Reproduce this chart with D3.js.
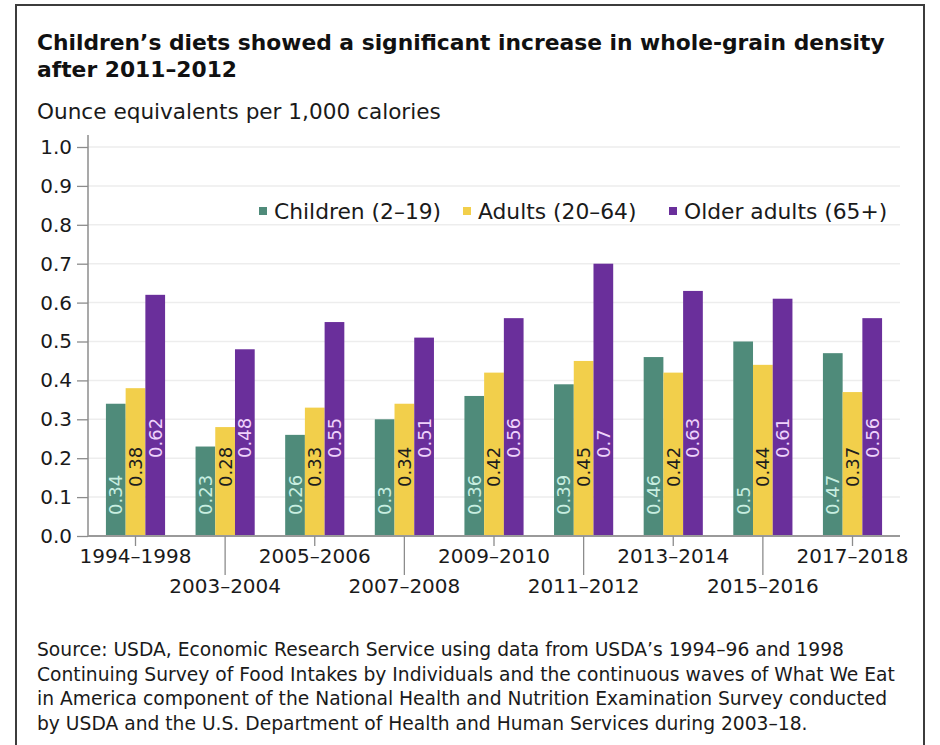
<!DOCTYPE html>
<html>
<head>
<meta charset="utf-8">
<script src="https://cdn.jsdelivr.net/npm/d3@7"></script>
<style>
  html, body { margin: 0; padding: 0; background: #ffffff; }
  svg { display: block; }
  text { font-family: "DejaVu Sans", sans-serif; }
</style>
</head>
<body>
<svg id="chart" width="940" height="745"></svg>
<script>
// Survey periods
const categories = ["1994–1998", "2003–2004", "2005–2006", "2007–2008", "2009–2010",
                    "2011–2012", "2013–2014", "2015–2016", "2017–2018"];
// Whole-grain density, ounce equivalents per 1,000 calories
const children    = [0.34, 0.23, 0.26, 0.30, 0.36, 0.39, 0.46, 0.50, 0.47];
const adults      = [0.38, 0.28, 0.33, 0.34, 0.42, 0.45, 0.42, 0.44, 0.37];
const olderAdults = [0.62, 0.48, 0.55, 0.51, 0.56, 0.70, 0.63, 0.61, 0.56];
const seriesNames = ["Children (2–19)", "Adults (20–64)", "Older adults (65+)"];
const yTicks = [0, 0.1, 0.2, 0.3, 0.4, 0.5, 0.6, 0.7, 0.8, 0.9, 1.0];

const titleLines = ["Children’s diets showed a significant increase in whole-grain density",
                    "after 2011–2012"];
const subtitle = "Ounce equivalents per 1,000 calories";
const sourceLines = [
  "Source: USDA, Economic Research Service using data from USDA’s 1994–96 and 1998",
  "Continuing Survey of Food Intakes by Individuals and the continuous waves of What We Eat",
  "in America component of the National Health and Nutrition Examination Survey conducted",
  "by USDA and the U.S. Department of Health and Human Services during 2003–18."
];

const seriesValues = [children, adults, olderAdults];
const fills      = ["#4f8b7a", "#f2cf4b", "#6a2f9b"];
const labelFills = ["#c8eee0", "#1e1e1e", "#efd3fb"];
const labelOffsets = [21, 49, 78];   // label start distance above the baseline, per series

const svg = d3.select("#chart");

// outer frame
svg.append("rect")
  .attr("x", 16).attr("y", 5).attr("width", 908).attr("height", 780)
  .attr("fill", "none").attr("stroke", "#3c3c3c").attr("stroke-width", 2);

// title and subtitle
svg.append("g").selectAll("text").data(titleLines).join("text")
  .attr("x", 37).attr("y", (d, i) => 50 + i * 27)
  .attr("font-size", 21.8).attr("font-weight", "bold").attr("fill", "#111")
  .text(d => d);

svg.append("text").attr("x", 37).attr("y", 119)
  .attr("font-size", 21.6).attr("fill", "#1a1a1a").text(subtitle);

// scales
const x = d3.scaleBand().domain(categories).range([88, 900])
  .paddingInner(0.34).paddingOuter(0.2);
const xs = d3.scaleBand().domain(d3.range(seriesValues.length)).range([0, x.bandwidth()]);
const y = d3.scaleLinear().domain([0, 1]).range([536, 147]);

// gridlines
svg.append("g").selectAll("line").data(yTicks.slice(1)).join("line")
  .attr("x1", 88).attr("x2", 900)
  .attr("y1", d => y(d)).attr("y2", d => y(d))
  .attr("stroke", "#ededed").attr("stroke-width", 1.5);

// y axis
const yAxis = svg.append("g").attr("transform", "translate(88,0)")
  .call(d3.axisLeft(y).tickValues(yTicks).tickSize(11).tickPadding(5)
        .tickFormat(d3.format(".1f")));
yAxis.select(".domain").remove();
yAxis.selectAll(".tick line").attr("stroke", "#8c8c8c").attr("stroke-width", 1.3);
yAxis.selectAll(".tick text").attr("font-size", 20).attr("fill", "#1a1a1a")
  .attr("font-family", "DejaVu Sans, sans-serif");
svg.append("line").attr("x1", 88).attr("x2", 88).attr("y1", 135).attr("y2", y(0))
  .attr("stroke", "#8c8c8c").attr("stroke-width", 1.5);

// bars
const groups = svg.append("g").selectAll("g").data(categories).join("g")
  .attr("transform", d => `translate(${x(d)},0)`);

groups.selectAll("rect")
  .data((d, i) => seriesValues.map((s, k) => ({ k, v: s[i] })))
  .join("rect")
  .attr("x", d => xs(d.k)).attr("width", xs.bandwidth())
  .attr("y", d => y(d.v)).attr("height", d => y(0) - y(d.v))
  .attr("fill", d => fills[d.k]);

// rotated value labels
groups.selectAll("text.value")
  .data((d, i) => seriesValues.map((s, k) => ({ k, v: s[i] })))
  .join("text").attr("class", "value")
  .attr("transform", d => `translate(${xs(d.k) + xs.bandwidth() / 2},${y(0) - labelOffsets[d.k]}) rotate(-90)`)
  .attr("dy", "0.36em")
  .attr("font-size", 18).attr("fill", d => labelFills[d.k])
  .text(d => String(d.v));

// x axis baseline
svg.append("line").attr("x1", 88).attr("x2", 900).attr("y1", y(0)).attr("y2", y(0))
  .attr("stroke", "#9a9a9a").attr("stroke-width", 2);

// staggered category ticks and labels
const xt = svg.append("g").selectAll("g").data(categories).join("g")
  .attr("transform", d => `translate(${x(d) + x.bandwidth() / 2},${y(0)})`);
xt.append("line").attr("y1", 0).attr("y2", (d, i) => i % 2 ? 39 : 10)
  .attr("stroke", "#8c8c8c").attr("stroke-width", 1.3);
xt.append("text").attr("text-anchor", "middle")
  .attr("y", (d, i) => i % 2 ? 57 : 27)
  .attr("font-size", 20).attr("fill", "#1a1a1a").text(d => d);

// legend
const legendX = [259, 463, 669];
const lg = svg.append("g").selectAll("g").data(seriesNames).join("g")
  .attr("transform", (d, i) => `translate(${legendX[i]},211)`);
lg.append("rect").attr("x", 0).attr("y", -4).attr("width", 8).attr("height", 8)
  .attr("fill", (d, i) => fills[i]);
lg.append("text").attr("x", 15).attr("dy", "0.36em")
  .attr("font-size", 21.8).attr("fill", "#1a1a1a").text(d => d);

// source note
svg.append("g").selectAll("text").data(sourceLines).join("text")
  .attr("x", 37).attr("y", (d, i) => 656 + i * 24.7)
  .attr("font-size", 18.7).attr("fill", "#1a1a1a").text(d => d);
</script>
</body>
</html>
